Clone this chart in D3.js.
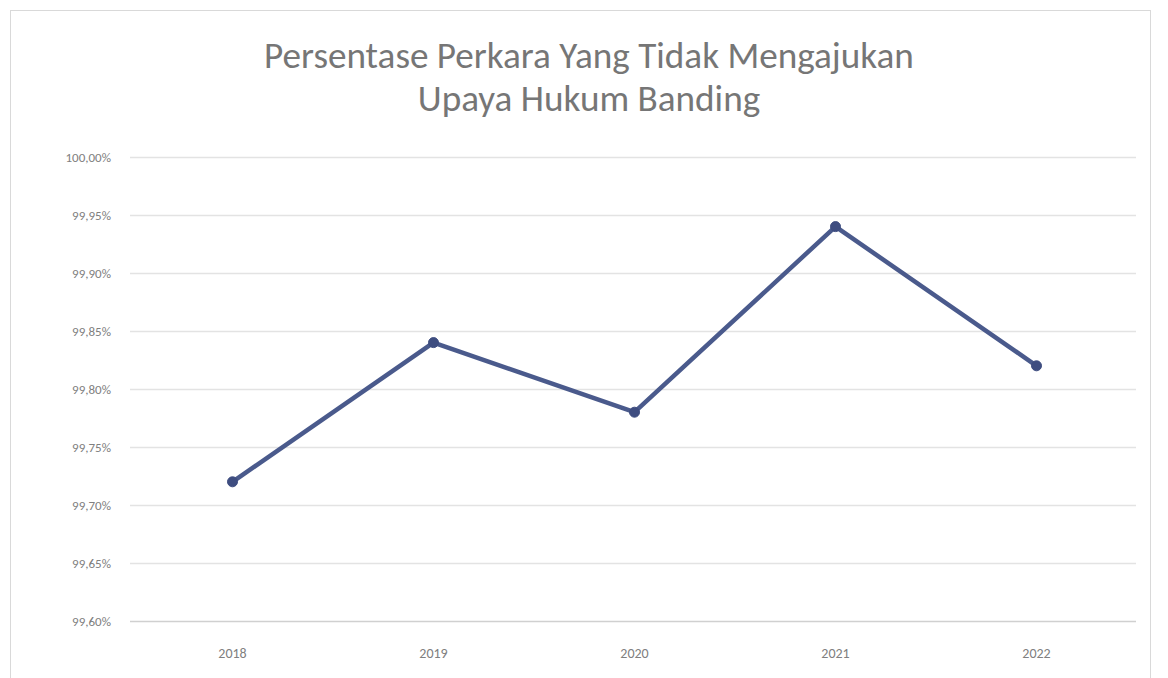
<!DOCTYPE html>
<html>
<head>
<meta charset="utf-8">
<script src="https://cdn.jsdelivr.net/npm/d3@7/dist/d3.min.js"></script>
<style>
html,body{margin:0;padding:0;background:#fff;}
svg{display:block;}
</style>
</head>
<body>
<svg id="chart" width="1168" height="678"></svg>
<script>
const titleLines = ["Persentase Perkara Yang Tidak Mengajukan", "Upaya Hukum Banding"];
const years = ["2018", "2019", "2020", "2021", "2022"];
const values = [99.72, 99.84, 99.78, 99.94, 99.82];
const yTicks = [99.60, 99.65, 99.70, 99.75, 99.80, 99.85, 99.90, 99.95, 100.00];

const svg = d3.select("#chart");
const font = "Carlito, Calibri, 'Open Sans', 'Liberation Sans', sans-serif";

// frame
svg.append("rect").attr("x", 10.5).attr("y", 10.5).attr("width", 1140).attr("height", 700)
  .attr("fill", "#fff").attr("stroke", "#d9d9d9").attr("stroke-width", 1);

const x = d3.scaleBand().domain(years).range([132, 1137]);
const y = d3.scaleLinear().domain([99.60, 100.00]).range([621, 157]);

const fmt = v => d3.format(".2f")(v).replace(".", ",") + "%";

// gridlines
svg.append("g").selectAll("line").data(yTicks).join("line")
  .attr("x1", 130).attr("x2", 1136)
  .attr("y1", d => Math.round(y(d)) + 0.5).attr("y2", d => Math.round(y(d)) + 0.5)
  .attr("stroke", d => d === 99.60 ? "#d0d0d0" : "#e3e3e3").attr("stroke-width", 1.3);

// y axis labels
const yAxis = d3.axisLeft(y).tickValues(yTicks).tickFormat(fmt).tickSize(0).tickPadding(0);
const ga = svg.append("g").attr("transform", "translate(111,0)").call(yAxis);
ga.select(".domain").remove();
ga.selectAll("text").attr("font-family", font).attr("font-size", 13).attr("fill", "#808080");

// x axis labels
const xAxis = d3.axisBottom(x).tickSize(0).tickPadding(0);
const gx = svg.append("g").attr("transform", "translate(0,648)").call(xAxis);
gx.select(".domain").remove();
gx.selectAll("text").attr("font-family", font).attr("font-size", 14).attr("fill", "#808080");

// line
const cx = d => x(d) + x.bandwidth() / 2;
const data = years.map((yr, i) => ({yr, v: values[i]}));
svg.append("path").datum(data)
  .attr("fill", "none").attr("stroke", "#4a5a8c").attr("stroke-width", 4.5)
  .attr("stroke-linejoin", "round")
  .attr("d", d3.line().x(d => cx(d.yr)).y(d => y(d.v)));

svg.append("g").selectAll("circle").data(data).join("circle")
  .attr("cx", d => cx(d.yr)).attr("cy", d => y(d.v)).attr("r", 5)
  .attr("fill", "#3e4d80").attr("stroke", "#3e4d80").attr("stroke-width", 1);

// title
const t = svg.append("g");
t.selectAll("text").data(titleLines).join("text")
  .attr("x", 589).attr("y", (d, i) => 68 + i * 43)
  .attr("text-anchor", "middle")
  .attr("font-family", font).attr("font-size", 27).attr("fill", "#767676")
  .text(d => d);
// fit first title line width to ~650px
const first = t.select("text").node();
const len = first.getComputedTextLength();
const fs = 27 * 650 / len;
t.selectAll("text").attr("font-size", fs);
</script>
</body>
</html>
